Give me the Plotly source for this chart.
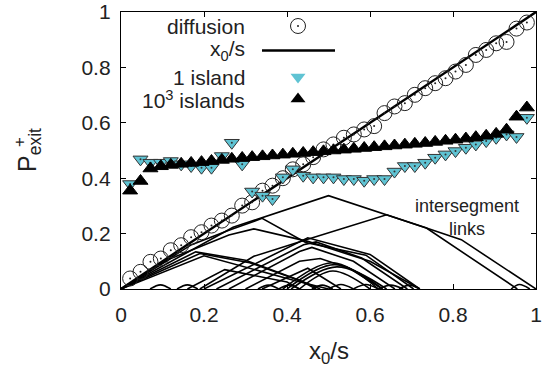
import plotly.graph_objects as go

# ---------------- data ----------------
x_pts = [0.022, 0.047, 0.071, 0.096, 0.120, 0.145, 0.169, 0.194, 0.218, 0.243,
         0.267, 0.292, 0.316, 0.341, 0.365, 0.390, 0.414, 0.439, 0.463, 0.488,
         0.512, 0.537, 0.561, 0.586, 0.610, 0.635, 0.659, 0.684, 0.708, 0.733,
         0.757, 0.782, 0.806, 0.831, 0.855, 0.880, 0.904, 0.929, 0.953, 0.978]

diffusion = [0.038, 0.062, 0.098, 0.110, 0.140, 0.158, 0.187, 0.205, 0.229, 0.247,
             0.265, 0.301, 0.313, 0.355, 0.373, 0.400, 0.432, 0.450, 0.476, 0.504,
             0.522, 0.546, 0.558, 0.576, 0.588, 0.635, 0.659, 0.671, 0.701, 0.725,
             0.743, 0.761, 0.785, 0.809, 0.845, 0.863, 0.887, 0.892, 0.940, 0.962]

one_island = [0.379, 0.468, 0.456, 0.456, 0.462, 0.450, 0.444, 0.438, 0.438, 0.480,
              0.528, 0.450, 0.352, 0.337, 0.325, 0.403, 0.432, 0.409, 0.403, 0.403,
              0.403, 0.397, 0.397, 0.391, 0.397, 0.397, 0.424, 0.444, 0.444, 0.456,
              0.474, 0.486, 0.498, 0.510, 0.522, 0.534, 0.546, 0.558, 0.549, 0.618]

many_islands = [0.355, 0.390, 0.435, 0.443, 0.448, 0.452, 0.455, 0.458, 0.462, 0.466,
                0.470, 0.473, 0.476, 0.479, 0.482, 0.485, 0.488, 0.491, 0.494, 0.497,
                0.500, 0.503, 0.506, 0.509, 0.512, 0.515, 0.518, 0.521, 0.524, 0.527,
                0.531, 0.535, 0.539, 0.543, 0.548, 0.553, 0.560, 0.575, 0.622, 0.655]

ref_x = [0.0, 1.0]
ref_y = [0.0, 1.0]

# intersegment link curves (piecewise linear)
link_x = [
    [0.0, 0.27, 0.5, 0.736, 0.955],
    [0.19, 0.32, 0.45, 0.64, 0.736, 0.82, 1.0],
    [0.0, 0.17, 0.26, 0.34, 0.445, 0.59, 0.705],
    [0.0, 0.12, 0.26, 0.32, 0.45, 0.60, 0.72],
    [0.0, 0.18, 0.30, 0.43, 0.47],
    [0.0, 0.19, 0.31, 0.44, 0.48],
    [0.0, 0.20, 0.42, 0.46, 0.50],
    [0.20, 0.45, 0.60, 0.72],
    [0.23, 0.44, 0.47, 0.58, 0.69],
    [0.26, 0.43, 0.46, 0.56, 0.66],
    [0.30, 0.43, 0.48, 0.55, 0.63],
    [0.16, 0.25, 0.40, 0.43],
    [0.34, 0.45, 0.53],
]
link_y = [
    [0.0, 0.223, 0.337, 0.220, 0.0],
    [0.0, 0.118, 0.180, 0.268, 0.220, 0.178, 0.0],
    [0.0, 0.160, 0.212, 0.255, 0.168, 0.122, 0.0],
    [0.0, 0.110, 0.195, 0.217, 0.172, 0.100, 0.0],
    [0.0, 0.134, 0.104, 0.032, 0.0],
    [0.0, 0.128, 0.095, 0.025, 0.0],
    [0.0, 0.120, 0.030, 0.015, 0.0],
    [0.0, 0.185, 0.125, 0.0],
    [0.0, 0.160, 0.170, 0.112, 0.0],
    [0.0, 0.135, 0.150, 0.100, 0.0],
    [0.0, 0.100, 0.110, 0.075, 0.0],
    [0.0, 0.070, 0.025, 0.0],
    [0.0, 0.075, 0.0],
]

# rounded humps (start, peak, end) and heights
hump_x = [
    [0.39, 0.51, 0.62], [0.40, 0.515, 0.63], [0.41, 0.52, 0.64], [0.43, 0.51, 0.60],
    [0.07, 0.095, 0.12], [0.135, 0.16, 0.185], [0.33, 0.355, 0.38], [0.38, 0.405, 0.43],
    [0.46, 0.485, 0.51], [0.50, 0.53, 0.56], [0.56, 0.59, 0.62], [0.62, 0.65, 0.68],
    [0.67, 0.695, 0.72], [0.94, 0.96, 0.985],
]
hump_y = [
    [0.0, 0.095, 0.0], [0.0, 0.088, 0.0], [0.0, 0.080, 0.0], [0.0, 0.065, 0.0],
    [0.0, 0.015, 0.0], [0.0, 0.015, 0.0], [0.0, 0.014, 0.0], [0.0, 0.014, 0.0],
    [0.0, 0.014, 0.0], [0.0, 0.016, 0.0], [0.0, 0.016, 0.0], [0.0, 0.014, 0.0],
    [0.0, 0.014, 0.0], [0.0, 0.016, 0.0],
]

x_ticks = [0, 0.2, 0.4, 0.6, 0.8, 1]
y_ticks = [0, 0.2, 0.4, 0.6, 0.8, 1]
legend_labels = ["diffusion", "x<sub>0</sub>/s", "1 island", "10<sup>3</sup> islands"]

# ---------------- layout constants ----------------
W, H = 542, 370
ML, MR, MT, MB = 121, 6, 12, 81
PW, PH = W - ML - MR, H - MT - MB
FONT = "Liberation Sans, Arial, Helvetica, sans-serif"
TXT = "#222222"
CYAN = "#5fc3d3"


def px_x(px):
    return (px - ML) / PW


def px_y(py):
    return (H - MB - py) / PH


fig = go.Figure()

for xs, ys in zip(link_x, link_y):
    fig.add_trace(go.Scatter(x=xs, y=ys, mode="lines",
                             line=dict(color="black", width=1.6),
                             hoverinfo="skip", showlegend=False))
for xs, ys in zip(hump_x, hump_y):
    fig.add_trace(go.Scatter(x=xs, y=ys, mode="lines",
                             line=dict(color="black", width=1.6, shape="spline"),
                             hoverinfo="skip", showlegend=False))

fig.add_trace(go.Scatter(x=ref_x, y=ref_y, mode="lines",
                         line=dict(color="black", width=2.4), showlegend=False))

fig.add_trace(go.Scatter(x=x_pts, y=diffusion, mode="markers", showlegend=False,
                         marker=dict(symbol="circle-open", size=15, color="#222",
                                     line=dict(width=1, color="#222"))))
fig.add_trace(go.Scatter(x=x_pts, y=diffusion, mode="markers", showlegend=False,
                         marker=dict(symbol="circle", size=2, color="#222")))

fig.add_trace(go.Scatter(x=x_pts, y=one_island, mode="markers", showlegend=False,
                         marker=dict(symbol="triangle-down", size=13, color=CYAN,
                                     line=dict(width=1, color="#333"))))
fig.add_trace(go.Scatter(x=x_pts, y=one_island, mode="markers", showlegend=False,
                         marker=dict(symbol="circle", size=2, color="#333")))

fig.add_trace(go.Scatter(x=x_pts, y=many_islands, mode="markers", showlegend=False,
                         marker=dict(symbol="triangle-up", size=13, color="black",
                                     line=dict(width=1, color="black"))))

# ---------------- manual legend (gnuplot style) ----------------
leg_text_right = px_x(247)
leg_sym_x = px_x(298)
leg_rows = [px_y(26), px_y(50.5), px_y(77), px_y(99)]
annotations = []
for lab, yy in zip(legend_labels, leg_rows):
    annotations.append(dict(x=leg_text_right, y=yy, xref="paper", yref="paper", text=lab,
                            showarrow=False, xanchor="right", yanchor="middle",
                            height=21, valign="middle",
                            font=dict(family=FONT, size=21, color=TXT)))

fig.add_trace(go.Scatter(x=[leg_sym_x], y=[leg_rows[0]], mode="markers", showlegend=False,
                         marker=dict(symbol="circle-open", size=15, color="#222",
                                     line=dict(width=1, color="#222"))))
fig.add_trace(go.Scatter(x=[leg_sym_x], y=[leg_rows[0]], mode="markers", showlegend=False,
                         marker=dict(symbol="circle", size=2, color="#222")))
fig.add_trace(go.Scatter(x=[px_x(262), px_x(335)], y=[leg_rows[1], leg_rows[1]],
                         mode="lines", showlegend=False,
                         line=dict(color="black", width=2.4)))
fig.add_trace(go.Scatter(x=[leg_sym_x], y=[leg_rows[2]], mode="markers", showlegend=False,
                         marker=dict(symbol="triangle-down", size=13, color=CYAN,
                                     line=dict(width=0, color=CYAN))))
fig.add_trace(go.Scatter(x=[leg_sym_x], y=[leg_rows[3]], mode="markers", showlegend=False,
                         marker=dict(symbol="triangle-up", size=13, color="black")))

# link label
annotations.append(dict(x=px_x(467), y=px_y(217), xref="paper", yref="paper",
                        text="intersegment<br>links", showarrow=False,
                        xanchor="center", yanchor="middle", align="center",
                        font=dict(family=FONT, size=18, color=TXT)))

# axis titles
annotations.append(dict(x=px_x(329), y=px_y(352), xref="paper", yref="paper",
                        text="x<sub>0</sub>/s", showarrow=False,
                        xanchor="center", yanchor="middle",
                        font=dict(family=FONT, size=24, color=TXT)))
annotations.append(dict(x=px_x(29), y=px_y(150), xref="paper", yref="paper",
                        text="P<sub>exit</sub>", showarrow=False, textangle=-90,
                        xanchor="center", yanchor="middle",
                        font=dict(family=FONT, size=25, color=TXT)))
annotations.append(dict(x=px_x(19), y=px_y(142), xref="paper", yref="paper",
                        text="+", showarrow=False, textangle=-90,
                        xanchor="center", yanchor="middle",
                        font=dict(family=FONT, size=17, color=TXT)))

axis_common = dict(range=[0, 1], showgrid=False, zeroline=False, showline=True,
                   linecolor="black", linewidth=1.3, mirror="ticks", ticks="inside",
                   ticklen=5, tickwidth=1, tickcolor="black", automargin=False,
                   ticklabeloverflow="allow",
                   tickfont=dict(family=FONT, size=21, color=TXT))

fig.update_layout(
    width=W, height=H,
    margin=dict(l=ML, r=MR, t=MT, b=MB, autoexpand=False),
    paper_bgcolor="white", plot_bgcolor="white",
    showlegend=False,
    xaxis=dict(tickvals=x_ticks, ticktext=[f"{v:g}" for v in x_ticks],
               ticklabelstandoff=7, **axis_common),
    yaxis=dict(tickvals=y_ticks, ticktext=[f"{v:g}" for v in y_ticks],
               ticklabelstandoff=5, **axis_common),
    annotations=annotations,
)
fig.update_traces(cliponaxis=False)

fig.write_html("out.html")
